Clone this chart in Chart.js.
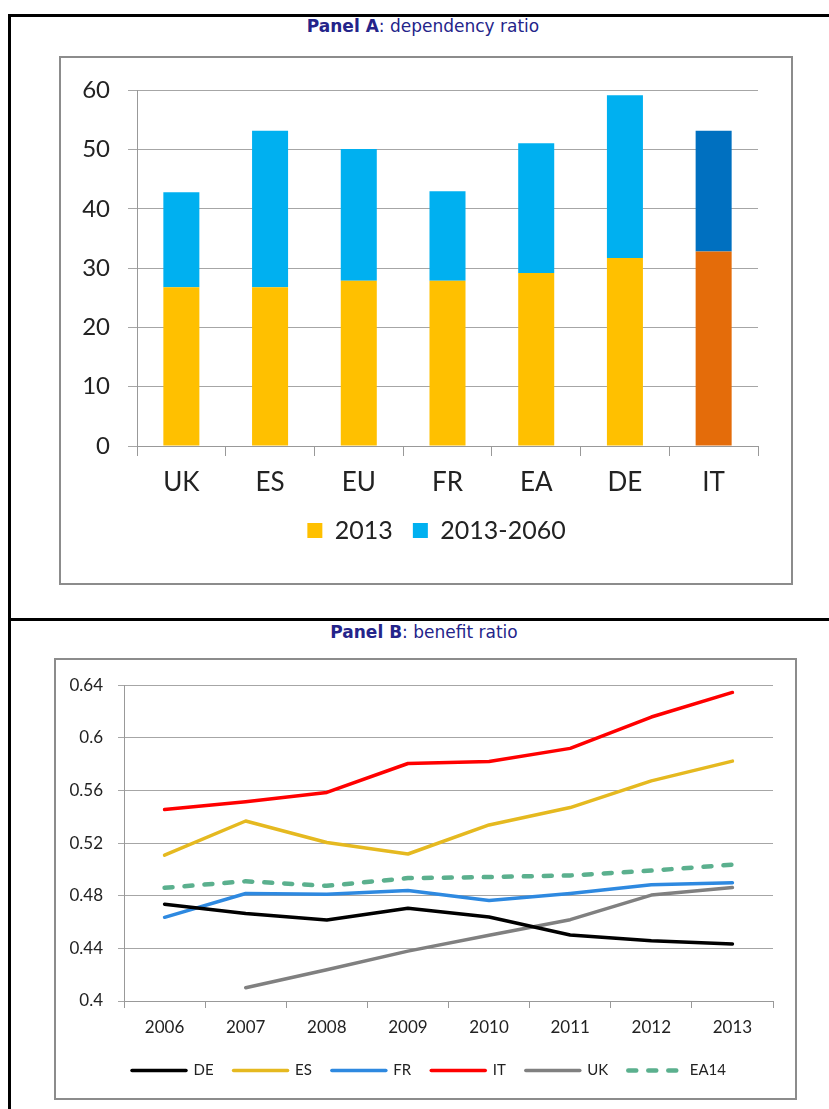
<!DOCTYPE html>
<html>
<head>
<meta charset="utf-8">
<script src="https://cdn.jsdelivr.net/npm/chart.js@4.4.1/dist/chart.umd.min.js"></script>
<style>
  html, body { margin: 0; padding: 0; background: #fff; overflow: hidden; }
  body { width: 829px; height: 1109px; position: relative; }
  .line { position: absolute; background: #000; }
  .box { position: absolute; box-sizing: border-box; border: 2px solid #8c8c8c; }
  .title { position: absolute; transform: translateX(-50%); white-space: nowrap;
           font-family: "DejaVu Sans", sans-serif; font-size: 17px; color: #24248a; }
  .title b { font-weight: bold; }
  canvas { position: absolute; }
</style>
</head>
<body>
<div class="line" style="left:8px;top:14px;width:821px;height:3px;"></div>
<div class="line" style="left:8px;top:14px;width:3px;height:1095px;"></div>
<div class="line" style="left:8px;top:618px;width:821px;height:3px;"></div>

<div class="title" style="left:423px;top:16px;"><b>Panel A</b>: dependency ratio</div>
<div class="box" style="left:59px;top:56px;width:734px;height:529px;"></div>
<canvas id="chartA" width="731" height="526" style="left:61px;top:58px;"></canvas>

<div class="title" style="left:424px;top:622px;"><b>Panel B</b>: benefit ratio</div>
<div class="box" style="left:54px;top:658px;width:743px;height:442px;"></div>
<canvas id="chartB" width="740" height="439" style="left:56px;top:660px;"></canvas>

<script>
// ---------- Panel A data ----------
const depCategories = ['UK', 'ES', 'EU', 'FR', 'EA', 'DE', 'IT'];
const dep2013 = [26.8, 26.8, 27.9, 27.9, 29.2, 31.7, 32.8];
const depChange20132060 = [16.0, 26.4, 22.2, 15.1, 21.9, 27.5, 20.4];
const depSeriesNames = ['2013', '2013-2060'];
const depHighlight = 'IT';
const depTicks = [0, 10, 20, 30, 40, 50, 60];

// ---------- Panel B data ----------
const years = ['2006', '2007', '2008', '2009', '2010', '2011', '2012', '2013'];
const benefitDE   = [0.4735, 0.4665, 0.4616, 0.4705, 0.4638, 0.4502, 0.4457, 0.4433];
const benefitES   = [0.5108, 0.5368, 0.5205, 0.5117, 0.5338, 0.5470, 0.5673, 0.5823];
const benefitFR   = [0.4636, 0.4817, 0.4812, 0.4840, 0.4763, 0.4817, 0.4884, 0.4899];
const benefitIT   = [0.5455, 0.5515, 0.5585, 0.5805, 0.5820, 0.5920, 0.6158, 0.6345];
const benefitUK   = [null,   0.4101, 0.4238, 0.4379, 0.4499, 0.4618, 0.4805, 0.4862];
const benefitEA14 = [0.4860, 0.4910, 0.4875, 0.4934, 0.4942, 0.4954, 0.4991, 0.5036];
const benefitTicks = [0.4, 0.44, 0.48, 0.52, 0.56, 0.6, 0.64];

Chart.defaults.font.family = 'Lato, "Open Sans", sans-serif';
Chart.defaults.color = '#222';

// moves the legend box horizontally so its centre sits at a given canvas x
const legendCenter = {
  id: 'legendCenter',
  afterLayout(chart, args, opts) {
    const lg = chart.legend;
    if (!lg || opts.x === undefined) return;
    const d = opts.x - (lg.left + lg.right) / 2;
    lg.left += d; lg.right += d;
  }
};

const isHL = ctx => ctx.dataIndex !== undefined && ctx.chart.data.labels[ctx.dataIndex] === depHighlight;

new Chart(document.getElementById('chartA'), {
  type: 'bar',
  data: {
    labels: depCategories,
    datasets: [
      { label: depSeriesNames[0], data: dep2013,
        backgroundColor: ctx => isHL(ctx) ? '#E46C0A' : '#FFC000', borderWidth: 0 },
      { label: depSeriesNames[1], data: depChange20132060,
        backgroundColor: ctx => isHL(ctx) ? '#0070C0' : '#00B0F0', borderWidth: 0 }
    ]
  },
  plugins: [legendCenter],
  options: {
    responsive: false, animation: false, devicePixelRatio: 1,
    layout: { padding: { top: 31, left: 0, right: 34, bottom: 31 } },
    datasets: { bar: { categoryPercentage: 1, barPercentage: 0.406 } },
    plugins: {
      tooltip: { enabled: false },
      legendCenter: { x: 375.5 },
      legend: {
        position: 'bottom',
        labels: { font: { size: 25 }, boxWidth: 15, boxHeight: 15, padding: 20, color: '#222' }
      }
    },
    scales: {
      x: {
        stacked: true,
        grid: { drawOnChartArea: false, drawTicks: true, tickLength: 10, color: '#999', offset: true },
        border: { color: '#999', width: 1 },
        ticks: { font: { size: 26 }, padding: 11, color: '#222' },
        afterFit: s => { s.height = 52; }
      },
      y: {
        stacked: true, min: 0, max: 60,
        afterBuildTicks: s => { s.ticks = depTicks.map(v => ({ value: v })); },
        grid: { color: '#a6a6a6', tickLength: 9, lineWidth: 1 },
        border: { color: '#999', width: 1 },
        ticks: { font: { size: 24 }, padding: 18, color: '#222' },
        afterFit: s => { s.width = 76; }
      }
    }
  }
});

const lineDs = (label, data, color, extra) => Object.assign({
  label, data, borderColor: color, backgroundColor: color, borderWidth: 3.5,
  pointRadius: 0, pointHoverRadius: 0, pointStyle: 'line', fill: false, tension: 0,
  borderCapStyle: 'round', borderJoinStyle: 'round'
}, extra || {});

new Chart(document.getElementById('chartB'), {
  type: 'line',
  data: {
    labels: years,
    datasets: [
      lineDs('DE', benefitDE, '#000000'),
      lineDs('ES', benefitES, '#E5B920'),
      lineDs('FR', benefitFR, '#2E89E0'),
      lineDs('IT', benefitIT, '#FF0000'),
      lineDs('UK', benefitUK, '#808080'),
      lineDs('EA14', benefitEA14, '#5BB08E', { borderWidth: 4.5, borderDash: [8, 12] })
    ]
  },
  plugins: [legendCenter],
  options: {
    responsive: false, animation: false, devicePixelRatio: 1,
    layout: { padding: { top: 22, left: 0, right: 23, bottom: 11 } },
    plugins: {
      tooltip: { enabled: false },
      legendCenter: { x: 373 },
      legend: {
        position: 'bottom',
        labels: {
          usePointStyle: true, pointStyleWidth: 54, boxHeight: 15,
          font: { size: 15 }, padding: 20, color: '#222',
          generateLabels: chart => Chart.defaults.plugins.legend.labels.generateLabels(chart).map(l => {
            const ds = chart.data.datasets[l.datasetIndex];
            l.lineDash = ds.borderDash || [];
            l.lineCap = 'round';
            l.lineWidth = ds.borderWidth;
            l.strokeStyle = ds.borderColor;
            return l;
          })
        }
      }
    },
    scales: {
      x: {
        offset: true,
        grid: { drawOnChartArea: false, drawTicks: true, tickLength: 7, color: '#999', offset: true },
        border: { color: '#999', width: 1 },
        ticks: { font: { size: 17 }, padding: 9, color: '#222' },
        afterFit: s => { s.height = 42; }
      },
      y: {
        min: 0.4, max: 0.64,
        afterBuildTicks: s => { s.ticks = benefitTicks.map(v => ({ value: v })); },
        grid: { color: '#a6a6a6', tickLength: 6, lineWidth: 1 },
        border: { color: '#999', width: 1 },
        ticks: { font: { size: 17 }, padding: 15, color: '#222',
                 callback: v => String(parseFloat(Number(v).toFixed(2))) },
        afterFit: s => { s.width = 68; }
      }
    }
  }
});
</script>
</body>
</html>
